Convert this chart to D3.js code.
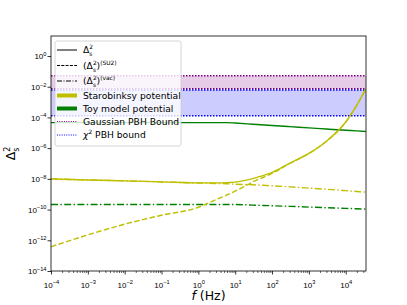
<!DOCTYPE html>
<html><head><meta charset="utf-8">
<script src="https://cdn.jsdelivr.net/npm/d3@7"></script>
<style>body{margin:0;background:#fff}svg{display:block;font-family:"DejaVu Sans",sans-serif}</style>
</head><body><svg id="c" width="407" height="305"></svg>
<script>
// ---- data ----
const freq = [1e-4, 1e-3, 1e-2, 1e-1, 1, 3, 6, 10, 30, 100, 300, 1e3, 3e3, 1e4, 2e4, 3.5e4];
const staroTotal = [1.0e-8, 8.5e-9, 7.4e-9, 6.4e-9, 5.5e-9, 5.45e-9, 5.7e-9, 6.1e-9, 1.04e-8, 2.6e-8, 1.03e-7, 4.5e-7, 2.82e-6, 5.0e-5, 6.3e-4, 7.1e-3];
const staroSU2 = [3.8e-13, 2.24e-12, 1.12e-11, 4.27e-11, 1.41e-10, 4.47e-10, 8.9e-10, 1.58e-9, 6.3e-9, 2.24e-8, 1.0e-7, 4.47e-7, 2.82e-6, 5.0e-5, 6.3e-4, 7.1e-3];
const staroVac = [1.0e-8, 8.5e-9, 7.4e-9, 6.3e-9, 5.4e-9, 5.0e-9, 4.8e-9, 4.5e-9, 4.1e-9, 3.55e-9, 3.0e-9, 2.5e-9, 2.1e-9, 1.7e-9, 1.5e-9, 1.35e-9];
const toyTotal = [4.6e-5, 4.6e-5, 4.6e-5, 4.6e-5, 4.6e-5, 4.6e-5, 4.6e-5, 4.3e-5, 3.6e-5, 2.95e-5, 2.5e-5, 2.1e-5, 1.75e-5, 1.45e-5, 1.32e-5, 1.2e-5];
const toyVac = [2.14e-10, 2.14e-10, 2.14e-10, 2.14e-10, 2.14e-10, 2.14e-10, 2.14e-10, 2.14e-10, 1.95e-10, 1.78e-10, 1.62e-10, 1.45e-10, 1.32e-10, 1.2e-10, 1.12e-10, 1.07e-10];
const gaussBand = [7.4e-3, 5.2e-2];
const chi2Band = [1.3e-4, 6.1e-3];
const xTickExp = [-4, -3, -2, -1, 0, 1, 2, 3, 4];
const yTickExp = [0, -2, -4, -6, -8, -10, -12, -14];
const xDomain = [1e-4, 3.55e4];
const yDomain = [1e-14, 20];

// ---- layout ----
const L = 51, R = 366, T = 36, B = 271;
const svg = d3.select("#c");
const x = d3.scaleLog().domain(xDomain).range([L, R]);
const y = d3.scaleLog().domain(yDomain).range([B, T]);
const YEL = "#bfbf00", GRN = "#008000";

const clip = svg.append("defs").append("clipPath").attr("id", "pc");
clip.append("rect").attr("x", L).attr("y", T).attr("width", R - L).attr("height", B - T);
const plot = svg.append("g").attr("clip-path", "url(#pc)");

// bands
function band(b, col) {
  plot.append("rect").attr("x", L).attr("width", R - L)
    .attr("y", y(b[1])).attr("height", y(b[0]) - y(b[1]))
    .attr("fill", col).attr("fill-opacity", 0.2);
  b.forEach(v => plot.append("line").attr("x1", L).attr("x2", R)
    .attr("y1", y(v)).attr("y2", y(v)).attr("stroke", col)
    .attr("stroke-width", 1.5).attr("stroke-dasharray", "1.5,1.5"));
}
band(gaussBand, "#800080");
band(chi2Band, "#0000ff");

const line = d3.line().x((d, i) => x(freq[i])).y(d => y(d)).curve(d3.curveMonotoneX);
function curve(vals, col, dash) {
  plot.append("path").attr("d", line(vals)).attr("fill", "none")
    .attr("stroke", col).attr("stroke-width", 1.4)
    .attr("stroke-dasharray", dash || null);
}
const DASH = "5.5,2.4", DASHDOT = "7,2.4,1.4,2.4";
curve(toyVac, GRN, DASHDOT);
curve(toyTotal, GRN);
curve(staroVac, YEL, DASHDOT);
curve(staroSU2, YEL, DASH);
curve(staroTotal, YEL);

// ---- axes ----
function supLabel(sel, exp, anchor) {
  sel.text(null).attr("text-anchor", anchor);
  sel.append("tspan").text("10");
  sel.append("tspan").attr("dy", "-3.4").attr("font-size", 5.7)
    .text(exp < 0 ? "\u2212" + (-exp) : String(exp));
}
const xAxis = d3.axisBottom(x).tickValues(xTickExp.map(e => Math.pow(10, e)))
  .tickSize(3.5).tickSizeOuter(0).tickPadding(3);
const gx = svg.append("g").attr("transform", `translate(0,${B})`).call(xAxis);
gx.select(".domain").remove();
gx.selectAll(".tick line").attr("stroke-width", 0.8);
gx.selectAll(".tick text").attr("font-size", 8).attr("fill", "#000")
  .attr("dy", "10").each(function(d) { supLabel(d3.select(this), Math.round(Math.log10(d)), "middle"); });
// minor ticks
const minor = [];
for (let e = -4; e <= 4; e++) for (let m = 2; m <= 9; m++) { const v = m * Math.pow(10, e); if (v <= xDomain[1]) minor.push(v); }
const xMinor = d3.axisBottom(x).tickValues(minor).tickSize(2).tickSizeOuter(0).tickFormat("");
const gxm = svg.append("g").attr("transform", `translate(0,${B})`).call(xMinor);
gxm.select(".domain").remove();
gxm.selectAll(".tick line").attr("stroke-width", 0.6);

const yAxis = d3.axisLeft(y).tickValues(yTickExp.map(e => Math.pow(10, e)))
  .tickSize(3.5).tickSizeOuter(0).tickPadding(3);
const gy = svg.append("g").attr("transform", `translate(${L},0)`).call(yAxis);
gy.select(".domain").remove();
gy.selectAll(".tick line").attr("stroke-width", 0.8);
gy.selectAll(".tick text").attr("font-size", 8).attr("fill", "#000")
  .attr("dy", "2.8").each(function(d) { supLabel(d3.select(this), Math.round(Math.log10(d)), "end"); });
gy.selectAll(".tick text").attr("x", -4.5);

svg.append("rect").attr("x", L).attr("y", T).attr("width", R - L).attr("height", B - T)
  .attr("fill", "none").attr("stroke", "#000").attr("stroke-width", 0.8);

// axis labels
const xl = svg.append("text").attr("x", (L + R) / 2).attr("y", 300).attr("text-anchor", "middle").attr("font-size", 12.5);
xl.append("tspan").attr("font-style", "italic").text("f");
xl.append("tspan").text(" (Hz)");
const yl = svg.append("text").attr("transform", `translate(15,${(T + B) / 2}) rotate(-90)`).attr("text-anchor", "middle").attr("font-size", 12.5);
yl.append("tspan").text("\u0394");
yl.append("tspan").attr("dy", -5.5).attr("font-size", 8).text("2");
yl.append("tspan").attr("dx", -5).attr("dy", 9.5).attr("font-size", 8).text("s");

// ---- legend ----
const lg = svg.append("g");
lg.append("rect").attr("x", 55).attr("y", 41).attr("width", 126).attr("height", 105).attr("rx", 2)
  .attr("fill", "#fff").attr("fill-opacity", 0.8).attr("stroke", "#cccccc").attr("stroke-width", 0.8);
const FS = 9.2, SS = 5.9;
const items = [
  {y: 50, col: "#000", w: 1, dash: null, lab: "tot"},
  {y: 65.5, col: "#000", w: 1, dash: "3,1.3", lab: "su2"},
  {y: 81, col: "#000", w: 1, dash: "5,1.5,1,1.5", lab: "vac"},
  {y: 95.5, col: YEL, w: 4, dash: null, lab: "Starobinksy potential"},
  {y: 108.5, col: GRN, w: 4, dash: null, lab: "Toy model potential"},
  {y: 121.5, col: "#800080", w: 1, dash: "1,1.3", lab: "Gaussian PBH Bound"},
  {y: 135, col: "#0000ff", w: 1, dash: "1,1.3", lab: "chi"}
];
items.forEach(it => {
  lg.append("line").attr("x1", 57).attr("x2", 77).attr("y1", it.y).attr("y2", it.y)
    .attr("stroke", it.col).attr("stroke-width", it.w).attr("stroke-dasharray", it.dash);
  const t = lg.append("text").attr("x", 83).attr("y", it.y + 3.3).attr("font-size", FS).attr("fill", "#000");
  const delta = (pre) => {
    if (pre) t.append("tspan").text("(");
    t.append("tspan").text("\u0394");
    t.append("tspan").attr("dy", -4).attr("font-size", SS).text("2");
    t.append("tspan").attr("dx", -3.7).attr("dy", 7).attr("font-size", SS).text("s");
  };
  if (it.lab === "tot") { delta(false); }
  else if (it.lab === "su2" || it.lab === "vac") {
    delta(true);
    t.append("tspan").attr("dx", 0.6).attr("dy", -3).text(")");
    t.append("tspan").attr("dy", -4).attr("font-size", SS).text(it.lab === "su2" ? "(SU2)" : "(vac)");
  } else if (it.lab === "chi") {
    t.append("tspan").attr("font-style", "italic").text("\u03c7");
    t.append("tspan").attr("dy", -4).attr("font-size", SS).text("2");
    t.append("tspan").attr("dy", 4).text(" PBH bound");
  } else t.text(it.lab);
});
</script></body></html>
